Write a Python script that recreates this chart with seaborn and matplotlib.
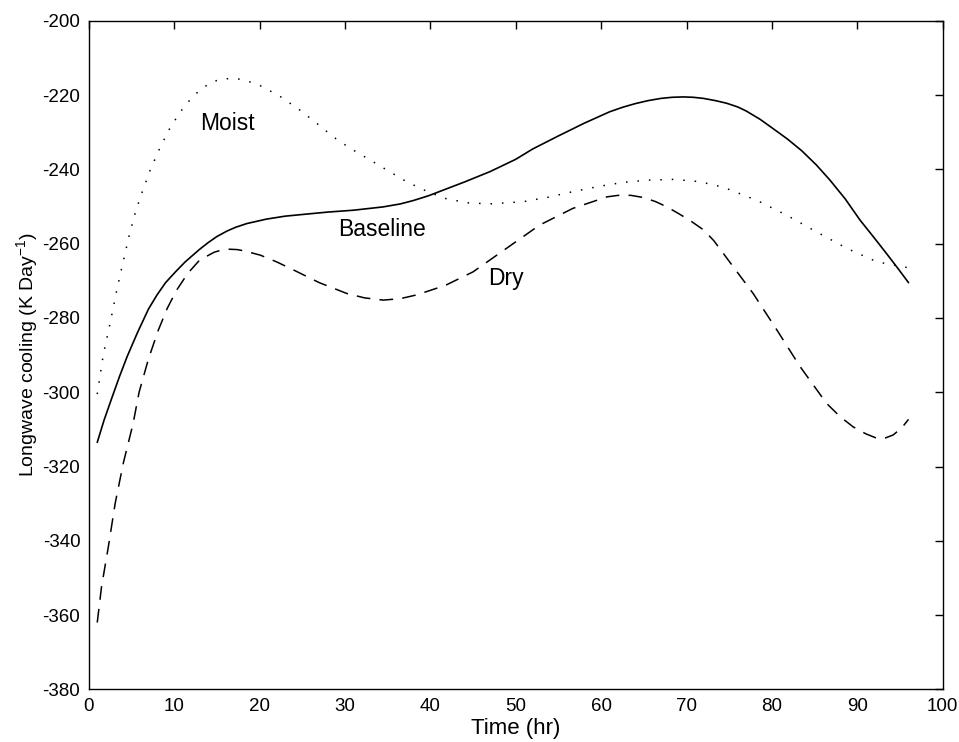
import matplotlib
matplotlib.use("Agg")
import matplotlib.pyplot as plt
import seaborn as sns
import pandas as pd

# ---- data ----
baseline_x = [1, 1.8, 2.7, 3.6, 4.5, 5.7, 7, 8, 9, 10.2, 11.3, 12.2, 13, 14, 15, 16.2, 17.2, 18.5,
              20.8, 23, 25.7, 28, 31, 34.5, 36.5, 38, 39.8, 41.5, 44, 47, 50, 52, 55, 58, 61, 62.5,
              64, 65.5, 67, 68.3, 69.6, 70.8, 72, 73.4, 74.7, 76, 77, 78.6, 80, 81.8, 83.5, 85.2,
              86.8, 88.6, 90.3, 91.9, 93.4, 94.7, 96]
baseline_y = [-313.5, -307.5, -301.6, -295.8, -290.4, -284.0, -277.6, -273.8, -270.5, -267.5,
              -264.9, -263.1, -261.5, -259.7, -258.1, -256.6, -255.6, -254.6, -253.4, -252.6,
              -252.0, -251.5, -251.0, -250.1, -249.3, -248.4, -247.1, -245.6, -243.4, -240.6,
              -237.3, -234.5, -231.0, -227.6, -224.5, -223.3, -222.3, -221.5, -220.9, -220.6,
              -220.5, -220.6, -220.9, -221.5, -222.2, -223.2, -224.3, -226.5, -228.8, -231.8,
              -235.0, -238.8, -242.9, -248.0, -253.6, -258.2, -262.6, -266.5, -270.5]

moist_x = [1, 1.7, 2.5, 3.2, 3.9, 4.8, 5.5, 6.2, 7.2, 8.4, 9.6, 10.9, 12, 13.0, 14, 14.8, 15.8,
           16.7, 17.6, 18.5, 19.5, 20.4, 22.5, 24.7, 26.7, 28.6, 30.6, 32.6, 35, 37.2, 39.5,
           41.7, 44.3, 47.0, 50.9, 53.8, 56.7, 59.7, 62.6, 65.5, 68.5, 71.5, 74.3, 78.2, 81.7,
           85.2, 88.8, 92.3, 96]
moist_y = [-300.5, -290.0, -281.5, -273.5, -266.2, -257.2, -251.3, -246.5, -240.2, -233.9,
           -228.5, -224.0, -220.9, -218.7, -217.1, -216.2, -215.7, -215.5, -215.7, -216.2,
           -216.9, -217.8, -220.5, -224.0, -227.6, -231.2, -234.3, -237.0, -240.3, -243.3,
           -245.8, -247.8, -249.0, -249.3, -248.7, -247.5, -246.0, -244.6, -243.5, -242.9,
           -242.7, -243.3, -244.8, -248.3, -252.3, -256.8, -261.3, -264.9, -266.5]

dry_x = [1, 1.5, 2.3, 3.1, 4.05, 5.2, 5.9, 7, 8.15, 9.2, 10.3, 11.6, 13.0, 14.7, 15.6, 16.5, 17.4,
         18.3, 20.1, 22, 24.0, 27, 30.2, 32.3, 34.5, 36.5, 38.4, 41.8, 45.0, 48.9, 52.8, 56.7,
         60.7, 62, 63.5, 65, 66.4, 67.7, 69, 70.5, 72.0, 73.2, 74.3, 77.8, 80.6, 83.3, 86.4, 88,
         89.5, 91, 92.3, 93.3, 94.2, 95.2, 96]
dry_y = [-362, -352.4, -341.6, -329.9, -319.1, -308.4, -300, -291, -283.3, -277.4, -272.5, -268,
         -264.4, -262.3, -261.7, -261.5, -261.6, -262, -263.1, -264.9, -267.1, -270.5, -273.4,
         -274.6, -275.2, -274.8, -273.8, -271.2, -267.6, -261.3, -255.0, -250.5, -247.4, -247.0,
         -247.0, -247.6, -248.7, -250.1, -251.8, -253.9, -256.3, -259.2, -262.6, -273.4, -283.3,
         -293.1, -303.0, -306.6, -309.3, -311.2, -312.4, -312.3, -311.5, -309.6, -307.3]

labels = ["Moist", "Baseline", "Dry"]
label_x = [16.2, 34.4, 48.9]
label_y = [-227.6, -256.3, -269.5]

x_ticks = [0, 10, 20, 30, 40, 50, 60, 70, 80, 90, 100]
y_ticks = [-380, -360, -340, -320, -300, -280, -260, -240, -220, -200]

# ---- styling ----
sns.set_theme(style="white")
plt.rcParams["font.family"] = ["Liberation Sans", "DejaVu Sans"]
plt.rcParams["mathtext.default"] = "regular"
plt.rcParams["axes.unicode_minus"] = False

fig = plt.figure(figsize=(9.59, 7.42), dpi=100)
ax = fig.add_axes([0.0925, 0.0709, 0.983 - 0.0925, 0.972 - 0.0709])

df_b = pd.DataFrame({"x": baseline_x, "y": baseline_y})
df_m = pd.DataFrame({"x": moist_x, "y": moist_y})
df_d = pd.DataFrame({"x": dry_x, "y": dry_y})

sns.lineplot(data=df_b, x="x", y="y", ax=ax, color="black", lw=1.2,
             estimator=None, sort=False)
sns.lineplot(data=df_m, x="x", y="y", ax=ax, color="black", lw=1.1,
             linestyle=(0, (1, 6.5)), estimator=None, sort=False)
sns.lineplot(data=df_d, x="x", y="y", ax=ax, color="black", lw=1.1,
             linestyle=(0, (9, 6)), estimator=None, sort=False)

for t, xx, yy in zip(labels, label_x, label_y):
    ax.text(xx, yy, t, ha="center", va="center", fontsize=16.5, color="black")

ax.set_xlim(0, 100)
ax.set_ylim(-380, -200)
ax.set_xticks(x_ticks)
ax.set_yticks(y_ticks)
ax.tick_params(direction="in", top=True, right=True, length=6, width=1,
               labelsize=13.5, colors="black", pad=6)
for s in ax.spines.values():
    s.set_color("black")
    s.set_linewidth(1.0)

ax.set_xlabel("Time (hr)", fontsize=16, color="black", labelpad=2)
ax.set_ylabel("Longwave cooling (K Day$^{-1}$)", fontsize=14, color="black", labelpad=2)

fig.savefig("out.png", dpi=100)
